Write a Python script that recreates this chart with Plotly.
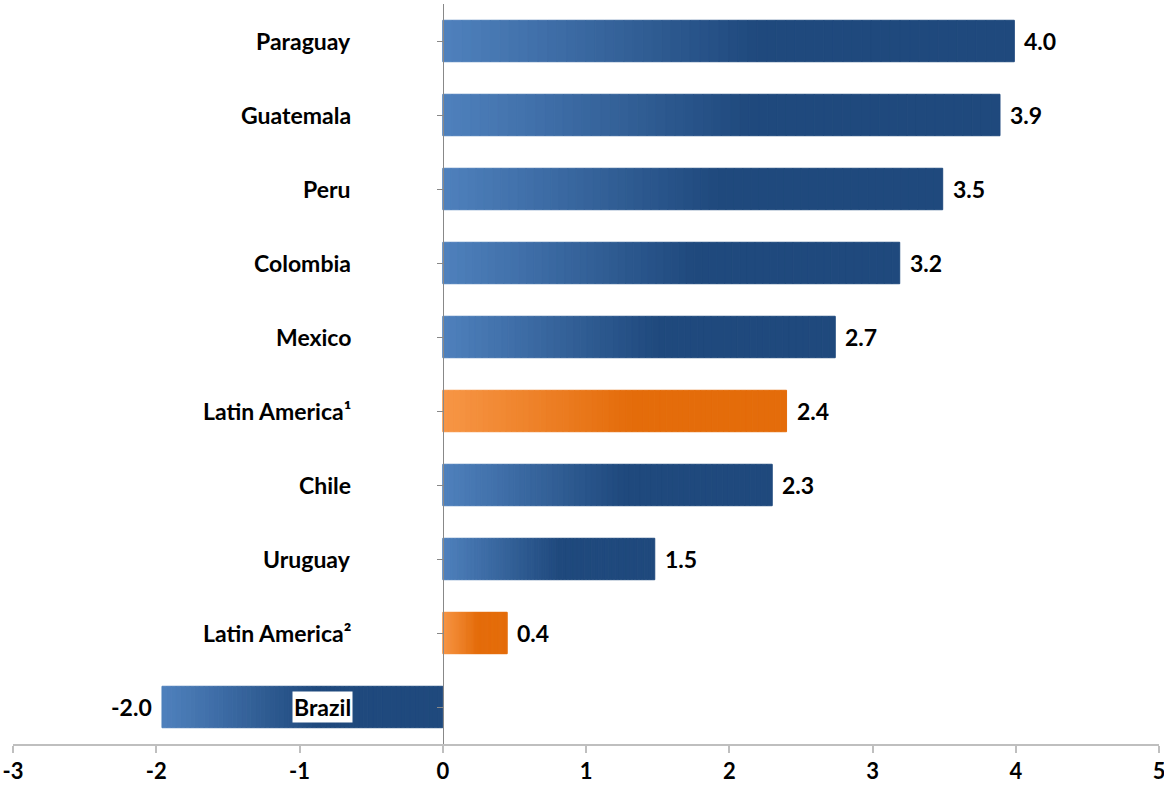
import plotly.graph_objects as go

categories = ["Paraguay", "Guatemala", "Peru", "Colombia", "Mexico",
              "Latin America¹", "Chile", "Uruguay", "Latin America²", "Brazil"]
values = [3.99, 3.89, 3.49, 3.19, 2.74, 2.40, 2.30, 1.48, 0.45, -1.96]
value_labels = ["4.0", "3.9", "3.5", "3.2", "2.7", "2.4", "2.3", "1.5", "0.4", "-2.0"]
is_aggregate = [False, False, False, False, False, True, False, False, True, False]
x_ticks = [-3, -2, -1, 0, 1, 2, 3, 4, 5]

BLUE_LIGHT = (79, 129, 189)
BLUE_DARK = (31, 73, 125)
ORANGE_LIGHT = (247, 150, 70)
ORANGE_DARK = (228, 108, 10)
N_SEG = 60
FONT = "Lato"
FSIZE = 23


def mix(c1, c2, t):
    t = max(0.0, min(1.0, t))
    return "rgb(%d,%d,%d)" % tuple(round(a + (b - a) * t) for a, b in zip(c1, c2))


fig = go.Figure()

# gradient bars built as stacked slices of each value
for s in range(N_SEG):
    xs, cols = [], []
    for v, agg in zip(values, is_aggregate):
        xs.append(v / N_SEG)
        if v >= 0:
            f = (s + 0.5) / N_SEG
        else:
            f = 1 - (s + 0.5) / N_SEG
        t = f / 0.55
        light, dark = (ORANGE_LIGHT, ORANGE_DARK) if agg else (BLUE_LIGHT, BLUE_DARK)
        cols.append(mix(light, dark, t))
    fig.add_trace(go.Bar(
        y=categories, x=xs, orientation="h",
        marker=dict(color=cols, line=dict(width=1, color=cols)),
        width=0.56, showlegend=False, hoverinfo="skip",
    ))

annotations = []
for c, v, lab in zip(categories, values, value_labels):
    annotations.append(dict(
        x=v, y=c, xref="x", yref="y", text=lab, showarrow=False,
        xanchor="left" if v >= 0 else "right",
        xshift=8 if v >= 0 else -8,
        font=dict(family=FONT, size=FSIZE, color="black", weight="bold"),
    ))
    annotations.append(dict(
        x=0, y=c, xref="x", yref="y", text=c, showarrow=False,
        xanchor="right", xshift=-90,
        bgcolor="white", borderpad=1,
        font=dict(family=FONT, size=FSIZE, color="black", weight="bold"),
    ))

fig.update_layout(
    width=1164, height=788,
    margin=dict(l=13, r=5, t=4, b=44, autoexpand=False),
    plot_bgcolor="white", paper_bgcolor="white",
    barmode="relative", bargap=0.43,
    annotations=annotations,
    xaxis=dict(
        range=[-3, 5], tickvals=x_ticks, ticktext=[str(t) for t in x_ticks],
        showgrid=False, zeroline=False, automargin=False,
        ticklabeloverflow="allow",
        showline=True, linecolor="#BFBFBF", linewidth=1.5,
        ticks="outside", ticklen=7, tickcolor="#BFBFBF", tickwidth=1.5,
        tickfont=dict(family=FONT, size=22, color="black", weight="bold"),
    ),
    yaxis=dict(
        autorange="reversed", categoryorder="array", categoryarray=categories,
        anchor="free", position=3 / 8, automargin=False,
        showgrid=False, zeroline=False,
        showline=True, linecolor="#888888", linewidth=1,
        ticks="outside", ticklen=6, tickcolor="#888888",
        showticklabels=False,
    ),
    font=dict(family=FONT),
)

fig.write_html("out.html", config={"displayModeBar": False},
               post_script="document.body.style.margin='0';")
